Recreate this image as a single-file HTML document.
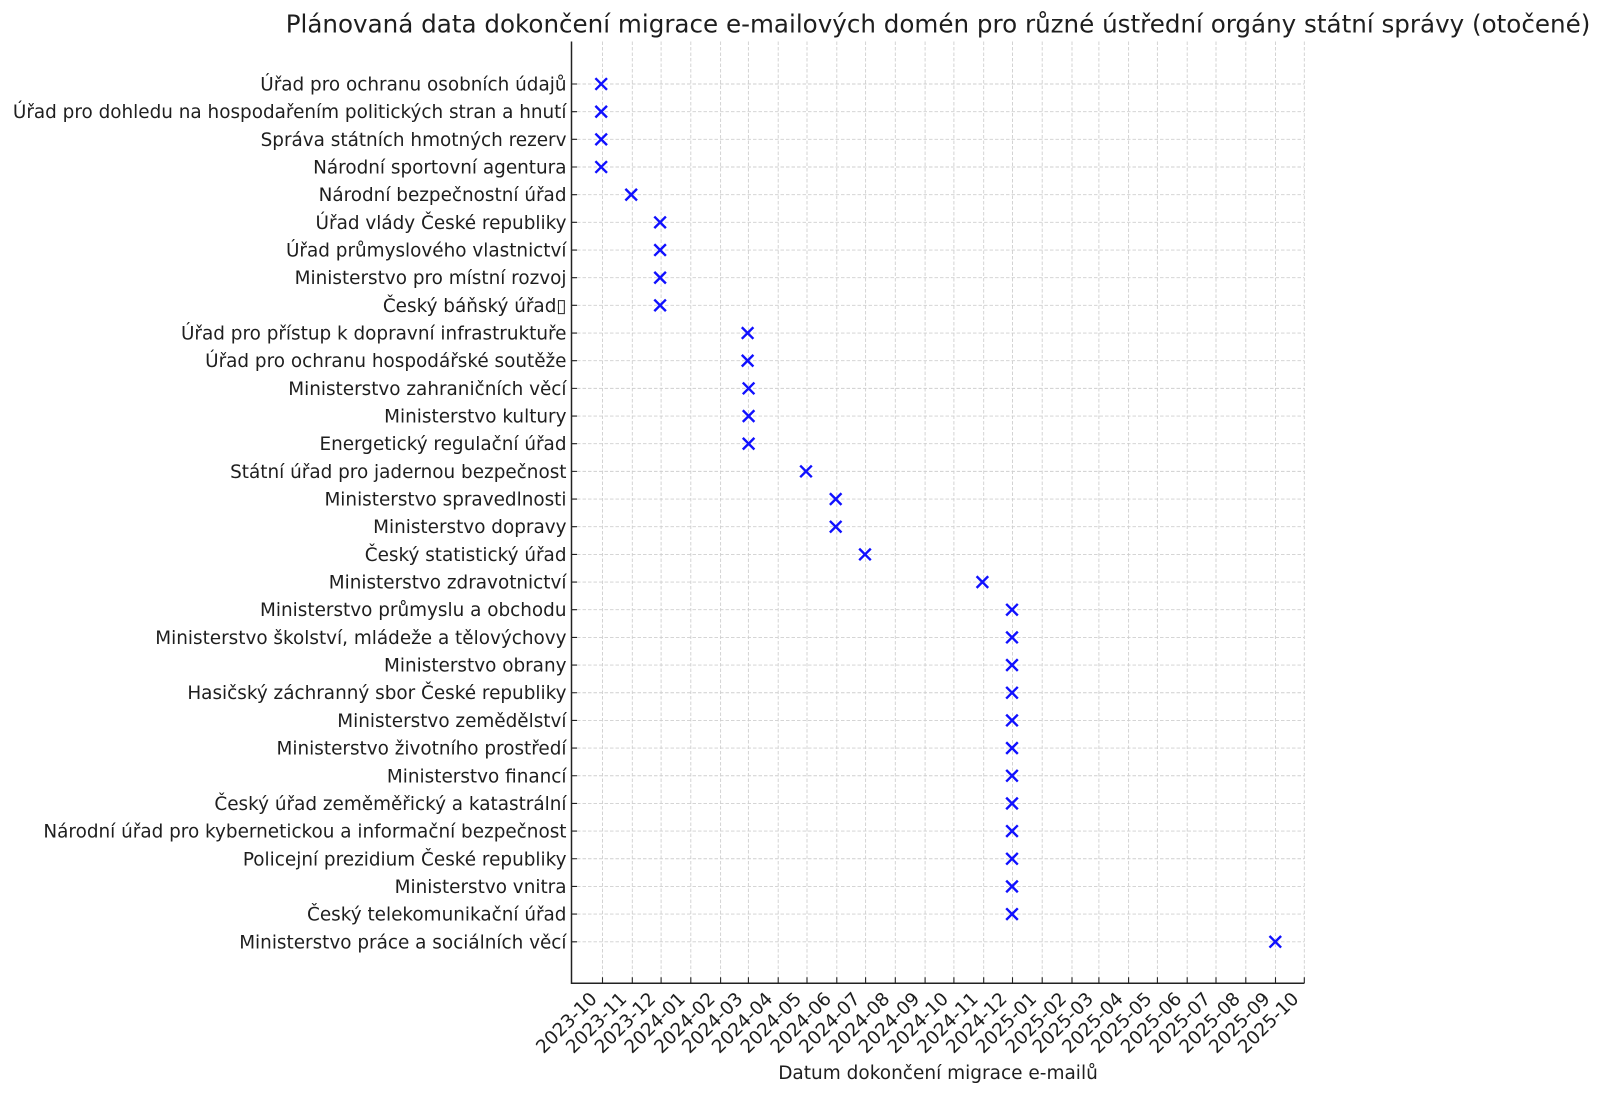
<!DOCTYPE html>
<html>
<head>
<meta charset="utf-8">
<style>
html,body{margin:0;padding:0;background:#fff;}
svg{display:block;}
text{font-family:"DejaVu Sans","Liberation Sans",sans-serif;fill:#1e1e1e;}
.yl{font-size:18.4px;text-anchor:end;}
.xl{font-size:18.4px;text-anchor:end;}
.g{stroke:#cfcfcf;stroke-width:0.9;stroke-dasharray:3.5 2;fill:none;}
.m{stroke:#1010ff;stroke-width:2.4;fill:none;stroke-linecap:butt;}
.tk{stroke:#222;stroke-width:1.1;}
</style>
</head>
<body>
<svg width="1600" height="1094" viewBox="0 0 1600 1094" xmlns="http://www.w3.org/2000/svg">
<rect width="1600" height="1094" fill="#fff"/>

<!-- title -->
<text x="938" y="32.3" text-anchor="middle" style="font-size:24.6px">Plánovaná data dokončení migrace e-mailových domén pro různé ústřední orgány státní správy (otočené)</text>

<!-- vertical grid -->
<g class="g">
<path d="M602.5 41.5V983.3M632.3 41.5V983.3M661.1 41.5V983.3M690.8 41.5V983.3M720.6 41.5V983.3M748.4 41.5V983.3M778.2 41.5V983.3M807 41.5V983.3M836.8 41.5V983.3M865.6 41.5V983.3M895.3 41.5V983.3M925.1 41.5V983.3M953.9 41.5V983.3M983.7 41.5V983.3M1012.5 41.5V983.3M1042.2 41.5V983.3M1072 41.5V983.3M1098.9 41.5V983.3M1128.6 41.5V983.3M1157.4 41.5V983.3M1187.2 41.5V983.3M1216 41.5V983.3M1245.8 41.5V983.3M1275.5 41.5V983.3M1304.3 41.5V983.3"/>
</g>
<!-- horizontal grid -->
<g class="g">
<path d="M571.5 84H1304.3M571.5 111.67H1304.3M571.5 139.34H1304.3M571.5 167.01H1304.3M571.5 194.68H1304.3M571.5 222.35H1304.3M571.5 250.02H1304.3M571.5 277.69H1304.3M571.5 305.36H1304.3M571.5 333.03H1304.3M571.5 360.7H1304.3M571.5 388.37H1304.3M571.5 416.04H1304.3M571.5 443.71H1304.3M571.5 471.38H1304.3M571.5 499.05H1304.3M571.5 526.72H1304.3M571.5 554.39H1304.3M571.5 582.06H1304.3M571.5 609.73H1304.3M571.5 637.4H1304.3M571.5 665.07H1304.3M571.5 692.74H1304.3M571.5 720.41H1304.3M571.5 748.08H1304.3M571.5 775.75H1304.3M571.5 803.42H1304.3M571.5 831.09H1304.3M571.5 858.76H1304.3M571.5 886.43H1304.3M571.5 914.1H1304.3M571.5 941.77H1304.3"/>
</g>

<!-- ticks (inward) -->
<g class="tk">
<path d="M571.5 84h5.5M571.5 111.67h5.5M571.5 139.34h5.5M571.5 167.01h5.5M571.5 194.68h5.5M571.5 222.35h5.5M571.5 250.02h5.5M571.5 277.69h5.5M571.5 305.36h5.5M571.5 333.03h5.5M571.5 360.7h5.5M571.5 388.37h5.5M571.5 416.04h5.5M571.5 443.71h5.5M571.5 471.38h5.5M571.5 499.05h5.5M571.5 526.72h5.5M571.5 554.39h5.5M571.5 582.06h5.5M571.5 609.73h5.5M571.5 637.4h5.5M571.5 665.07h5.5M571.5 692.74h5.5M571.5 720.41h5.5M571.5 748.08h5.5M571.5 775.75h5.5M571.5 803.42h5.5M571.5 831.09h5.5M571.5 858.76h5.5M571.5 886.43h5.5M571.5 914.1h5.5M571.5 941.77h5.5"/>
<path d="M602.5 983.3v-6M632.3 983.3v-6M661.1 983.3v-6M690.8 983.3v-6M720.6 983.3v-6M748.4 983.3v-6M778.2 983.3v-6M807 983.3v-6M836.8 983.3v-6M865.6 983.3v-6M895.3 983.3v-6M925.1 983.3v-6M953.9 983.3v-6M983.7 983.3v-6M1012.5 983.3v-6M1042.2 983.3v-6M1072 983.3v-6M1098.9 983.3v-6M1128.6 983.3v-6M1157.4 983.3v-6M1187.2 983.3v-6M1216 983.3v-6M1245.8 983.3v-6M1275.5 983.3v-6M1304.3 983.3v-6"/>
</g>

<!-- spines -->
<path d="M571.5 41.5V983.3H1304.3" stroke="#222" stroke-width="1.5" fill="none"/>

<!-- markers -->
<g class="m">
<path transform="translate(601.2,84)" d="M-5.8-5.8L5.8 5.8M-5.8 5.8L5.8-5.8"/>
<path transform="translate(601.2,111.67)" d="M-5.8-5.8L5.8 5.8M-5.8 5.8L5.8-5.8"/>
<path transform="translate(601.2,139.34)" d="M-5.8-5.8L5.8 5.8M-5.8 5.8L5.8-5.8"/>
<path transform="translate(601.2,167.01)" d="M-5.8-5.8L5.8 5.8M-5.8 5.8L5.8-5.8"/>
<path transform="translate(631.2,194.68)" d="M-5.8-5.8L5.8 5.8M-5.8 5.8L5.8-5.8"/>
<path transform="translate(660.1,222.35)" d="M-5.8-5.8L5.8 5.8M-5.8 5.8L5.8-5.8"/>
<path transform="translate(660.1,250.02)" d="M-5.8-5.8L5.8 5.8M-5.8 5.8L5.8-5.8"/>
<path transform="translate(660.1,277.69)" d="M-5.8-5.8L5.8 5.8M-5.8 5.8L5.8-5.8"/>
<path transform="translate(660.1,305.36)" d="M-5.8-5.8L5.8 5.8M-5.8 5.8L5.8-5.8"/>
<path transform="translate(747.6,333.03)" d="M-5.8-5.8L5.8 5.8M-5.8 5.8L5.8-5.8"/>
<path transform="translate(747.6,360.7)" d="M-5.8-5.8L5.8 5.8M-5.8 5.8L5.8-5.8"/>
<path transform="translate(748.6,388.37)" d="M-5.8-5.8L5.8 5.8M-5.8 5.8L5.8-5.8"/>
<path transform="translate(748.6,416.04)" d="M-5.8-5.8L5.8 5.8M-5.8 5.8L5.8-5.8"/>
<path transform="translate(748.6,443.71)" d="M-5.8-5.8L5.8 5.8M-5.8 5.8L5.8-5.8"/>
<path transform="translate(806,471.38)" d="M-5.8-5.8L5.8 5.8M-5.8 5.8L5.8-5.8"/>
<path transform="translate(835.7,499.05)" d="M-5.8-5.8L5.8 5.8M-5.8 5.8L5.8-5.8"/>
<path transform="translate(835.7,526.72)" d="M-5.8-5.8L5.8 5.8M-5.8 5.8L5.8-5.8"/>
<path transform="translate(865,554.39)" d="M-5.8-5.8L5.8 5.8M-5.8 5.8L5.8-5.8"/>
<path transform="translate(982.4,582.06)" d="M-5.8-5.8L5.8 5.8M-5.8 5.8L5.8-5.8"/>
<path transform="translate(1012,609.73)" d="M-5.8-5.8L5.8 5.8M-5.8 5.8L5.8-5.8"/>
<path transform="translate(1012,637.4)" d="M-5.8-5.8L5.8 5.8M-5.8 5.8L5.8-5.8"/>
<path transform="translate(1012,665.07)" d="M-5.8-5.8L5.8 5.8M-5.8 5.8L5.8-5.8"/>
<path transform="translate(1012,692.74)" d="M-5.8-5.8L5.8 5.8M-5.8 5.8L5.8-5.8"/>
<path transform="translate(1012,720.41)" d="M-5.8-5.8L5.8 5.8M-5.8 5.8L5.8-5.8"/>
<path transform="translate(1012,748.08)" d="M-5.8-5.8L5.8 5.8M-5.8 5.8L5.8-5.8"/>
<path transform="translate(1012,775.75)" d="M-5.8-5.8L5.8 5.8M-5.8 5.8L5.8-5.8"/>
<path transform="translate(1012,803.42)" d="M-5.8-5.8L5.8 5.8M-5.8 5.8L5.8-5.8"/>
<path transform="translate(1012,831.09)" d="M-5.8-5.8L5.8 5.8M-5.8 5.8L5.8-5.8"/>
<path transform="translate(1012,858.76)" d="M-5.8-5.8L5.8 5.8M-5.8 5.8L5.8-5.8"/>
<path transform="translate(1012,886.43)" d="M-5.8-5.8L5.8 5.8M-5.8 5.8L5.8-5.8"/>
<path transform="translate(1012,914.1)" d="M-5.8-5.8L5.8 5.8M-5.8 5.8L5.8-5.8"/>
<path transform="translate(1275.3,941.77)" d="M-5.8-5.8L5.8 5.8M-5.8 5.8L5.8-5.8"/>
</g>

<!-- y labels -->
<g class="yl">
<text x="566.5" y="90.5">Úřad pro ochranu osobních údajů</text>
<text x="566.5" y="118.17">Úřad pro dohledu na hospodařením politických stran a hnutí</text>
<text x="566.5" y="145.84">Správa státních hmotných rezerv</text>
<text x="566.5" y="173.51">Národní sportovní agentura</text>
<text x="566.5" y="201.18">Národní bezpečnostní úřad</text>
<text x="566.5" y="228.85">Úřad vlády České republiky</text>
<text x="566.5" y="256.52">Úřad průmyslového vlastnictví</text>
<text x="566.5" y="284.19">Ministerstvo pro místní rozvoj</text>
<text x="566.5" y="311.86">Český báňský úřad▯</text>
<text x="566.5" y="339.53">Úřad pro přístup k dopravní infrastruktuře</text>
<text x="566.5" y="367.2">Úřad pro ochranu hospodářské soutěže</text>
<text x="566.5" y="394.87">Ministerstvo zahraničních věcí</text>
<text x="566.5" y="422.54">Ministerstvo kultury</text>
<text x="566.5" y="450.21">Energetický regulační úřad</text>
<text x="566.5" y="477.88">Státní úřad pro jadernou bezpečnost</text>
<text x="566.5" y="505.55">Ministerstvo spravedlnosti</text>
<text x="566.5" y="533.22">Ministerstvo dopravy</text>
<text x="566.5" y="560.89">Český statistický úřad</text>
<text x="566.5" y="588.56">Ministerstvo zdravotnictví</text>
<text x="566.5" y="616.23">Ministerstvo průmyslu a obchodu</text>
<text x="566.5" y="643.9">Ministerstvo školství, mládeže a tělovýchovy</text>
<text x="566.5" y="671.57">Ministerstvo obrany</text>
<text x="566.5" y="699.24">Hasičský záchranný sbor České republiky</text>
<text x="566.5" y="726.91">Ministerstvo zemědělství</text>
<text x="566.5" y="754.58">Ministerstvo životního prostředí</text>
<text x="566.5" y="782.25">Ministerstvo financí</text>
<text x="566.5" y="809.92">Český úřad zeměměřický a katastrální</text>
<text x="566.5" y="837.59">Národní úřad pro kybernetickou a informační bezpečnost</text>
<text x="566.5" y="865.26">Policejní prezidium České republiky</text>
<text x="566.5" y="892.93">Ministerstvo vnitra</text>
<text x="566.5" y="920.6">Český telekomunikační úřad</text>
<text x="566.5" y="948.27">Ministerstvo práce a sociálních věcí</text>
</g>

<!-- x labels -->
<g class="xl">
<text transform="translate(598,1000) rotate(-45)">2023-10</text>
<text transform="translate(627.8,1000) rotate(-45)">2023-11</text>
<text transform="translate(656.6,1000) rotate(-45)">2023-12</text>
<text transform="translate(686.3,1000) rotate(-45)">2024-01</text>
<text transform="translate(716.1,1000) rotate(-45)">2024-02</text>
<text transform="translate(743.9,1000) rotate(-45)">2024-03</text>
<text transform="translate(773.7,1000) rotate(-45)">2024-04</text>
<text transform="translate(802.5,1000) rotate(-45)">2024-05</text>
<text transform="translate(832.3,1000) rotate(-45)">2024-06</text>
<text transform="translate(861.1,1000) rotate(-45)">2024-07</text>
<text transform="translate(890.8,1000) rotate(-45)">2024-08</text>
<text transform="translate(920.6,1000) rotate(-45)">2024-09</text>
<text transform="translate(949.4,1000) rotate(-45)">2024-10</text>
<text transform="translate(979.2,1000) rotate(-45)">2024-11</text>
<text transform="translate(1008,1000) rotate(-45)">2024-12</text>
<text transform="translate(1037.7,1000) rotate(-45)">2025-01</text>
<text transform="translate(1067.5,1000) rotate(-45)">2025-02</text>
<text transform="translate(1094.4,1000) rotate(-45)">2025-03</text>
<text transform="translate(1124.1,1000) rotate(-45)">2025-04</text>
<text transform="translate(1152.9,1000) rotate(-45)">2025-05</text>
<text transform="translate(1182.7,1000) rotate(-45)">2025-06</text>
<text transform="translate(1211.5,1000) rotate(-45)">2025-07</text>
<text transform="translate(1241.3,1000) rotate(-45)">2025-08</text>
<text transform="translate(1271,1000) rotate(-45)">2025-09</text>
<text transform="translate(1299.8,1000) rotate(-45)">2025-10</text>
</g>

<!-- x axis label -->
<text x="938" y="1079" text-anchor="middle" style="font-size:18.5px">Datum dokončení migrace e-mailů</text>
</svg>
</body>
</html>
